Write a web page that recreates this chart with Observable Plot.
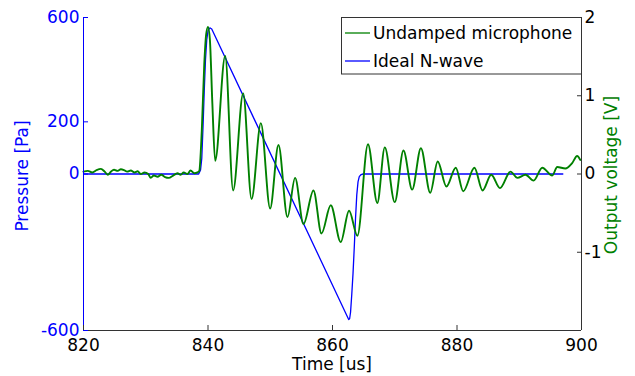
<!DOCTYPE html>
<html>
<head>
<meta charset="utf-8">
<script src="https://cdn.jsdelivr.net/npm/d3@7"></script>
<script src="https://cdn.jsdelivr.net/npm/@observablehq/plot@0.6"></script>
<style>
  html, body { margin: 0; padding: 0; background: #fff; }
  #chart svg { display: block; }
</style>
</head>
<body>
<div id="chart"></div>
<script>
// ---- data ----
const xTicks = [820, 840, 860, 880, 900];
const pressureTicks = [-600, 0, 200, 600];
const voltageTicks = [-1, 0, 1, 2];

// Ideal N-wave (pressure, Pa)
const idealTime = [820, 838.5, 838.8, 839.0, 839.2, 839.4, 839.6, 839.8, 840.0, 840.2, 840.35, 840.6,
  862.45, 862.6, 862.75, 862.9, 863.1, 863.3, 863.5, 863.7, 863.9, 864.1, 864.3, 864.6, 864.9, 897];
const idealPressure = [0, 0, 15, 60, 180, 320, 440, 515, 548, 558, 560, 556,
  -550, -558, -555, -530, -460, -380, -280, -170, -80, -30, -10, -2, 0, 0];

// Undamped microphone (output voltage, V)
const micTime = [
  820.0, 820.7, 821.4, 822.1, 822.8, 823.4, 823.9, 824.4, 824.9, 825.5,
  826.0, 826.5, 827.0, 827.6, 828.2, 828.7, 829.2, 829.8, 830.4, 830.8,
  831.3, 831.9, 832.5, 833.1, 833.7, 834.4, 835.1, 835.6, 836.1, 836.7,
  837.2, 837.8, 838.3, 838.6,
  839.0, 839.4, 839.7, 840.0, 840.3, 840.7, 841.15, 842.76, 844.04, 845.65,
  847.0, 848.49, 849.98, 851.32, 852.77, 853.99, 855.34, 856.94, 858.23, 859.72,
  861.32, 862.66, 864.0, 865.7, 867.2, 868.4, 870.0, 871.4, 872.8, 874.2,
  875.7, 876.9, 878.3, 879.8, 881.0, 882.8, 884.1, 885.5, 886.9, 888.6,
  889.7, 891.0, 892.3, 893.7, 895.3, 896.1, 897.4, 898.5, 899.3, 899.8
];
const micVoltage = [
  0.03, 0.04, 0.02, 0.05, 0.065, 0.03, -0.01, 0.03, 0.055, 0.04,
  0.06, 0.05, 0.03, 0.045, 0.02, 0.035, 0.0, 0.02, 0.0, -0.05,
  -0.02, -0.035, -0.01, -0.04, -0.05, -0.02, 0.01, -0.01, 0.02, 0.0,
  0.045, 0.01, 0.02, 0.04,
  0.55, 1.4, 1.78, 1.88, 1.72, 0.9, 0.17, 1.51, -0.21, 1.03,
  -0.32, 0.65, -0.44, 0.37, -0.55, -0.05, -0.64, -0.21, -0.76, -0.40,
  -0.87, -0.47, -0.79, 0.38, -0.37, 0.34, -0.36, 0.30, -0.20, 0.33,
  -0.24, 0.16, -0.16, 0.08, -0.22, 0.08, -0.21, -0.01, -0.18, 0.03,
  -0.05, -0.01, -0.085, 0.08, -0.02, 0.09, 0.07, 0.14, 0.23, 0.18
];

const seriesNames = ["Undamped microphone", "Ideal N-wave"];

// ---- build tables ----
const K = 300; // 2 V on the right axis <-> 600 Pa on the left axis
const ideal = idealTime.map((t, i) => ({t, p: idealPressure[i]}));
const mic = micTime.map((t, i) => ({t, v: micVoltage[i]}));

const BLUE = "#0000ff";
const GREEN = "#008000";
const AX = "#333333";
const FONT = "DejaVu Sans";

const W = 635, H = 376;
const mL = 83, mR = 54, mT = 17, mB = 46;

const chart = Plot.plot({
  width: W, height: H,
  marginLeft: mL, marginRight: mR, marginTop: mT, marginBottom: mB,
  style: {fontFamily: FONT, fontSize: "17px", background: "#fff", color: "#000"},
  x: {domain: [820, 900]},
  y: {domain: [-600, 600]},
  marks: [
    Plot.line(ideal, {x: "t", y: "p", stroke: BLUE, strokeWidth: 1.3}),
    Plot.line(mic, {x: "t", y: d => d.v * K, stroke: GREEN, strokeWidth: 1.9, curve: "monotone-x"}),
    Plot.ruleX([820], {stroke: BLUE, strokeWidth: 1}),
    Plot.ruleX([900], {stroke: AX, strokeWidth: 1}),
    Plot.ruleY([-600], {stroke: AX, strokeWidth: 1}),
    Plot.axisX({ticks: xTicks, tickFormat: d => String(d), tickSize: -5, tickPadding: 13,
      stroke: AX, fill: "#000", label: null}),
    Plot.axisY({anchor: "left", ticks: pressureTicks, tickFormat: d => String(d), tickSize: -5, tickPadding: 9,
      stroke: BLUE, fill: BLUE, label: null}),
    Plot.axisY({anchor: "right", ticks: voltageTicks.map(v => v * K), tickFormat: d => String(Math.round(d / K)),
      tickSize: -5, tickPadding: 8, stroke: AX, fill: "#000", label: null})
  ]
});

document.getElementById("chart").appendChild(chart);

// ---- axis titles and legend ----
const svg = d3.select(chart);
svg.append("text").attr("transform", "translate(28,176) rotate(-90)")
  .attr("text-anchor", "middle").attr("fill", BLUE)
  .style("font-family", FONT).style("font-size", "17px").text("Pressure [Pa]");
svg.append("text").attr("transform", "translate(616.5,175) rotate(-90)")
  .attr("text-anchor", "middle").attr("fill", GREEN)
  .style("font-family", FONT).style("font-size", "17px").text("Output voltage [V]");
svg.append("text").attr("x", 332).attr("y", 370)
  .attr("text-anchor", "middle").attr("fill", "#000")
  .style("font-family", FONT).style("font-size", "17px").text("Time [us]");

const lg = svg.append("g");
lg.append("rect").attr("x", 341.5).attr("y", 17.5).attr("width", 240).attr("height", 56.5)
  .attr("fill", "#fff").attr("stroke", AX).attr("stroke-width", 1);
const legendColors = [GREEN, BLUE];
seriesNames.forEach((name, i) => {
  const y = 33 + i * 28;
  lg.append("line").attr("x1", 345).attr("x2", 370).attr("y1", y).attr("y2", y)
    .attr("stroke", legendColors[i]).attr("stroke-width", 1.3);
  lg.append("text").attr("x", 373).attr("y", y).attr("dy", "0.36em")
    .attr("text-anchor", "start")
    .attr("fill", "#000").style("font-family", FONT).style("font-size", "17px").text(name);
});
</script>
</body>
</html>
